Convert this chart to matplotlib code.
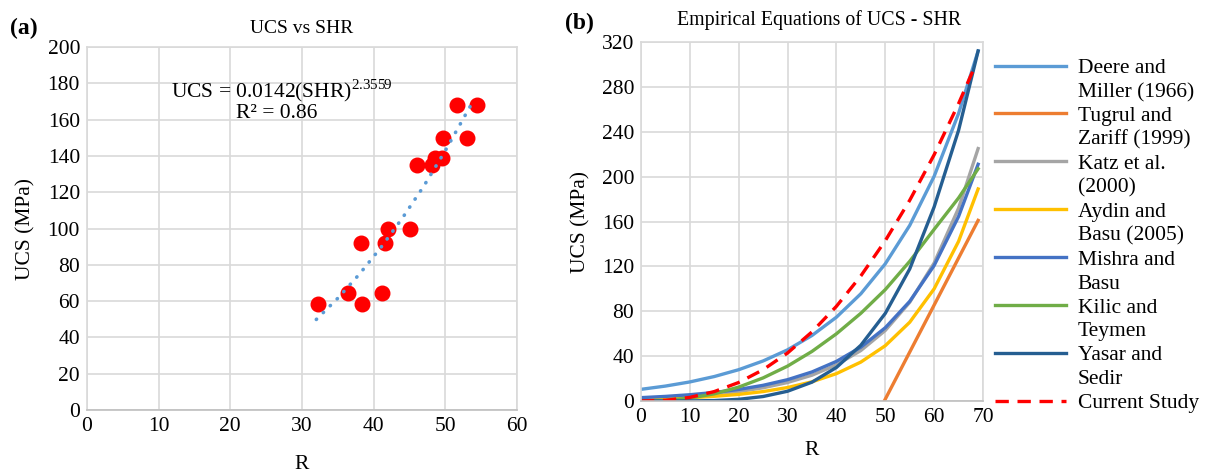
import matplotlib
matplotlib.use('Agg')
import matplotlib.pyplot as plt
from matplotlib.lines import Line2D

plt.rcParams['font.family'] = ['Liberation Serif', 'DejaVu Serif']
plt.rcParams['mathtext.fontset'] = 'custom'
plt.rcParams['mathtext.rm'] = 'Liberation Serif'
plt.rcParams['font.size'] = 15.5

# (a) measured points
shr = [32.2, 36.4, 38.4, 38.2, 41.1, 41.6, 42.0, 45.1, 46.1, 48.1, 48.5, 49.6, 49.7, 53.0, 51.6, 54.4]
ucs = [58.5, 64.5, 58.5, 92, 64.5, 92, 100, 100, 135, 135, 139, 139, 150, 150, 168, 168]

# (a) power trend line
trend_r = [32, 35, 38, 41, 44, 47, 50, 53, 54]
trend_ucs = [49.9, 61.6, 74.8, 89.5, 105.7, 123.4, 142.9, 164.0, 171.0]

# (b) empirical equations, values read at these R
r_vals = [0, 5, 10, 15, 20, 25, 30, 35, 40, 45, 50, 55, 60, 65, 69]
deere = [10.4, 13.3, 17.0, 21.8, 27.9, 35.7, 45.6, 58.4, 74.7, 95.6, 122.3, 156.5, 200.3, 256.3, 312]
katz = [2.2, 3.1, 4.3, 6.0, 8.4, 11.8, 16.5, 23.0, 32.2, 45.0, 62.9, 88.0, 123.0, 171.9, 225]
aydin = [1.4, 2.1, 2.9, 4.2, 5.9, 8.4, 12.0, 17.1, 24.4, 34.7, 49.3, 70.2, 100.0, 142.3, 189]
mishra = [3.0, 4.1, 5.6, 7.6, 10.3, 14.0, 19.0, 25.9, 35.3, 48.0, 65.3, 88.8, 120.8, 164.5, 211]
kilic = [0, 0.5, 2.6, 6.4, 12.4, 20.6, 31.1, 44.2, 59.9, 78.2, 99.3, 124.5, 153, 181, 207]
yasar = [0, 0, 0.1, 0.4, 1.5, 4.0, 8.7, 16.8, 29.9, 49.7, 78.1, 117.7, 173, 241.3, 312]
tugrul_r = [49.8, 69]
tugrul = [0, 161]
current_r = [0, 5, 10, 15, 20, 25, 30, 35, 40, 45, 50, 55, 60, 65, 68]
current = [0, 0.6, 3.2, 8.4, 16.5, 27.9, 42.8, 61.6, 84.4, 111.5, 142.9, 178.9, 219.5, 265.1, 295]

grid_c = '#D9D9D9'

fig = plt.figure(figsize=(12.13, 4.74), dpi=100)
ax1 = fig.add_axes([0.0717, 0.135, 0.3545, 0.7658])
ax2 = fig.add_axes([0.5284, 0.154, 0.2820, 0.7574])

for ax in (ax1, ax2):
    ax.grid(True, color=grid_c, lw=1.2)
    ax.set_axisbelow(True)
    for s in ax.spines.values():
        s.set_color(grid_c)
        s.set_linewidth(1.2)
    ax.spines['bottom'].set_color('#BFBFBF')
    ax.tick_params(length=0, pad=5)

ax1.plot(trend_r, trend_ucs, color='#5B9BD5', lw=2.6, linestyle=(0, (0.1, 2.6)),
         dash_capstyle='round', zorder=3)
ax1.scatter(shr, ucs, s=110, color='#FF0000', zorder=2)
ax1.set_xlim(0, 60)
ax1.set_ylim(0, 200)
ax1.set_xticks(range(0, 61, 10))
ax1.set_yticks(range(0, 201, 20))
ax1.set_title('UCS vs SHR', fontsize=14, pad=10)
ax1.set_xlabel('R', labelpad=14)
ax1.set_ylabel('UCS (MPa)', labelpad=9)
ax1.text(27.2, 176, 'UCS = 0.0142(SHR)$^{2.3559}$', ha='center', va='center')
ax1.text(26.5, 163.5, 'R² = 0.86', ha='center', va='center')

lw = 2.4
l1, = ax2.plot(r_vals, deere, color='#5B9BD5', lw=lw)
l2, = ax2.plot(tugrul_r, tugrul, color='#ED7D31', lw=lw)
l3, = ax2.plot(r_vals, katz, color='#A5A5A5', lw=lw)
l4, = ax2.plot(r_vals, aydin, color='#FFC000', lw=lw)
l5, = ax2.plot(r_vals, mishra, color='#4472C4', lw=lw)
l6, = ax2.plot(r_vals, kilic, color='#70AD47', lw=lw)
l7, = ax2.plot(r_vals, yasar, color='#255E91', lw=lw)
l8, = ax2.plot(current_r, current, color='#FF0000', lw=lw, linestyle=(0, (4, 2.6)))
ax2.set_xlim(0, 70)
ax2.set_ylim(0, 320)
ax2.set_xticks(range(0, 71, 10))
ax2.set_yticks(range(0, 321, 40))
ax2.set_title('Empirical Equations of UCS - SHR', fontsize=14.3, pad=12, x=0.52)
ax2.set_xlabel('R', labelpad=10)
ax2.set_ylabel('UCS (MPa)', labelpad=8)

blank = Line2D([], [], alpha=0)
handles = [l1, blank, l2, blank, l3, blank, l4, blank, l5, blank, l6, blank, l7, blank, l8]
labels = ['Deere and', 'Miller (1966)', 'Tugrul and', 'Zariff (1999)', 'Katz et al.', '(2000)',
          'Aydin and', 'Basu (2005)', 'Mishra and', 'Basu', 'Kilic and', 'Teymen',
          'Yasar and', 'Sedir', 'Current Study']
fig.legend(handles, labels, loc='upper left', bbox_to_anchor=(995 / 1213, 1 - 58 / 474),
           frameon=False, borderpad=0, borderaxespad=0, handlelength=3.3, handletextpad=0.55,
           labelspacing=0.18, fontsize=15.5)

fig.text(10 / 1213, 1 - 28 / 474, '(a)', fontsize=17, fontweight='bold', va='center')
fig.text(565 / 1213, 1 - 23 / 474, '(b)', fontsize=17, fontweight='bold', va='center')

fig.savefig('out.png', dpi=100)
